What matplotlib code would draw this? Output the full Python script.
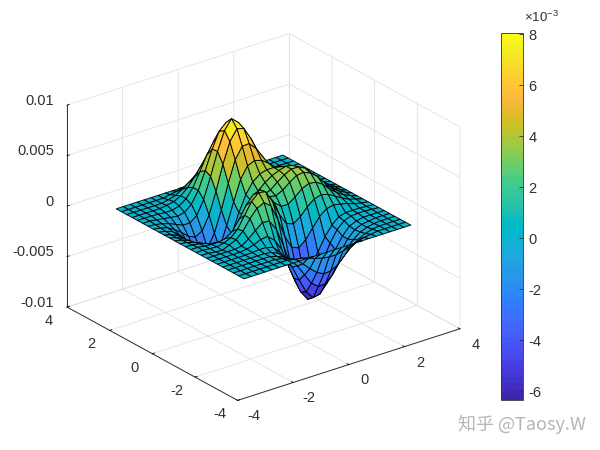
import numpy as np
import matplotlib
matplotlib.use("Agg")
import matplotlib.pyplot as plt
from matplotlib.colors import ListedColormap, Normalize
from matplotlib.cm import ScalarMappable
from mpl_toolkits.mplot3d import proj3d

grid_x = [-3, -2.75, -2.5, -2.25, -2, -1.75, -1.5, -1.25, -1, -.75, -.5, -.25, 0, .25, .5, .75, 1, 1.25, 1.5, 1.75, 2, 2.25, 2.5, 2.75, 3]
grid_y = list(grid_x)

# Surface height, in units of 1e-3, one list per y row
y_m300 = [0] * 25
y_m275 = [0, 0, 0, 0, 0, 0, 0, 0, -.15, -.25, -.45, -.7, -.9, -1, -1, -.85, -.6, -.4, -.2, -.1, 0, 0, 0, 0, 0]
y_m250 = [0, 0, 0, 0, 0, 0, 0, -.15, -.35, -.7, -1.3, -2, -2.6, -2.95, -2.9, -2.5, -1.8, -1.15, -.65, -.3, -.1, 0, 0, 0, 0]
y_m225 = [0, 0, 0, 0, 0, 0, 0, -.2, -.5, -1.05, -1.8, -2.9, -3.95, -4.5, -4.45, -3.8, -2.8, -1.75, -1, -.45, -.2, -.05, 0, 0, 0]
y_m200 = [0, 0, 0, 0, 0, 0, 0, -.1, -.4, -1.1, -2.2, -3.7, -5.1, -5.9, -5.75, -4.9, -3.55, -2.2, -1.2, -.5, -.2, -.1, 0, 0, 0]
y_m175 = [0, 0, 0, 0, 0, .05, .1, .1, -.1, -.8, -2, -3.8, -5.4, -6.35, -6.3, -5.4, -3.9, -2.3, -1.2, -.45, -.15, 0, 0, 0, 0]
y_m150 = [0, 0, 0, 0, 0, .1, .3, .6, .7, .1, -1, -2.9, -4.7, -5.8, -5.9, -4.95, -3.4, -1.95, -.85, -.2, .05, .1, .1, .05, 0]
y_m125 = [0, 0, 0, 0, 0, .1, .6, 1.2, 1.8, 1.7, .7, -1.1, -3.1, -4.5, -4.9, -4.1, -2.9, -1.6, -.7, -.1, .1, .1, .1, .05, 0]
y_m100 = [0, 0, -.1, -.15, .15, .45, 1.1, 2.1, 2.9, 3.25, 2.7, 1.15, -.75, -2.05, -2.35, -1.75, -.8, .1, .65, .8, .65, .5, .25, .1, 0]
y_m075 = [0, 0, -.05, -.1, .05, .35, 1, 2.15, 3.3, 3.95, 3.8, 2.6, 1.1, 0, -.25, .25, 1, 1.55, 1.75, 1.55, 1.15, .75, .4, .2, 0]
y_m050 = [0, 0, -.1, -.15, -.15, 0, .5, 1.5, 2.65, 3.45, 3.7, 3, 2, 1.4, 1.4, 1.9, 2.5, 2.8, 2.7, 2.25, 1.55, 1, .55, .25, 0]
y_m025 = [0, -.05, -.15, -.35, -.55, -.7, -.5, .1, 1.1, 2.05, 2.65, 2.65, 2.3, 2.15, 2.5, 3.05, 3.5, 3.6, 3.3, 2.75, 1.9, 1.15, .65, .3, 0]
y_p000 = [0, -.1, -.3, -.6, -1.1, -1.6, -1.9, -1.6, -.75, .3, 1.3, 1.85, 2.15, 2.45, 3, 3.5, 3.85, 3.85, 3.5, 2.75, 1.9, 1.2, .65, .3, 0]
y_p025 = [0, -.15, -.4, -.9, -1.7, -2.6, -3.15, -3.15, -2.35, -1.1, .4, 1.55, 2.3, 2.9, 3.35, 3.65, 3.85, 3.7, 3.15, 2.5, 1.7, 1.05, .55, .3, 0]
y_p050 = [0, -.2, -.5, -1.1, -2.05, -2.8, -3.45, -3.9, -3.2, -1.6, .3, 1.85, 2.9, 3.45, 3.65, 3.65, 3.5, 3.15, 2.65, 2, 1.35, .85, .45, .2, 0]
y_p075 = [0, -.2, -.5, -1.1, -2.1, -2.8, -3.45, -3.9, -3.05, -1.05, 1.1, 3.1, 4.2, 4.5, 4.3, 3.8, 3.2, 2.6, 2, 1.5, .95, .6, .3, .15, 0]
y_p100 = [0, -.15, -.4, -.95, -1.75, -2.6, -3.2, -3.1, -1.85, .25, 2.65, 4.75, 5.85, 5.9, 5.2, 4.1, 3, 2.15, 1.45, 1, .6, .35, .2, .1, 0]
y_p125 = [0, -.1, -.3, -.7, -1.2, -1.8, -2.1, -1.7, -.35, 1.8, 4.25, 6.25, 7.3, 7.1, 5.9, 4.4, 2.95, 1.9, 1.1, .65, .4, .2, .1, 0, 0]
y_p150 = [0, -.05, -.2, -.4, -.7, -1, -1, -.45, .9, 2.95, 5.2, 7.05, 8, 7.4, 6.15, 4.4, 2.75, 1.55, .85, .45, .2, .1, 0, 0, 0]
y_p175 = [0, 0, -.1, -.2, -.3, -.4, -.25, .35, 1.5, 3.25, 5.15, 6.7, 7.35, 6.9, 5.55, 3.85, 2.3, 1.2, .55, .2, .1, 0, 0, 0, 0]
y_p200 = [0, 0, 0, -.05, -.1, -.1, .1, .6, 1.5, 2.85, 4.3, 5.45, 5.95, 5.55, 4.45, 3.1, 1.85, .95, .4, .15, .05, 0, 0, 0, 0]
y_p225 = [0, 0, 0, 0, 0, .1, .25, .6, 1.2, 2.05, 3, 3.8, 4.1, 3.85, 3.05, 2.1, 1.25, .65, .3, .1, 0, 0, 0, 0, 0]
y_p250 = [0, 0, 0, 0, 0, 0, .15, .35, .75, 1.25, 1.8, 2.3, 2.45, 2.3, 1.8, 1.25, .75, .35, .15, 0, 0, 0, 0, 0, 0]
y_p275 = [0, 0, 0, 0, 0, 0, 0, .15, .25, .45, .65, .8, .9, .8, .65, .45, .25, .15, 0, 0, 0, 0, 0, 0, 0]
y_p300 = [0] * 25

axis_ticks = [-4, -2, 0, 2, 4]
axis_tick_labels = ["-4", "-2", "0", "2", "4"]
z_ticks = [-0.01, -0.005, 0, 0.005, 0.01]
z_tick_labels = ["-0.01", "-0.005", "0", "0.005", "0.01"]
cbar_ticks = [-6, -4, -2, 0, 2, 4, 6, 8]

parula = ListedColormap([
    (0.2422,0.1504,0.6603),(0.2504,0.1650,0.7076),(0.2578,0.1818,0.7511),(0.2647,0.1978,0.7952),
    (0.2706,0.2147,0.8364),(0.2751,0.2342,0.8710),(0.2783,0.2559,0.8991),(0.2803,0.2782,0.9221),
    (0.2813,0.3006,0.9414),(0.2810,0.3228,0.9579),(0.2795,0.3447,0.9717),(0.2760,0.3667,0.9829),
    (0.2699,0.3892,0.9906),(0.2602,0.4123,0.9952),(0.2440,0.4358,0.9988),(0.2206,0.4603,0.9973),
    (0.1963,0.4847,0.9892),(0.1834,0.5074,0.9798),(0.1786,0.5289,0.9682),(0.1764,0.5499,0.9520),
    (0.1687,0.5703,0.9359),(0.1540,0.5902,0.9218),(0.1460,0.6091,0.9079),(0.1380,0.6276,0.8973),
    (0.1248,0.6459,0.8883),(0.1113,0.6635,0.8763),(0.0952,0.6798,0.8598),(0.0689,0.6948,0.8394),
    (0.0297,0.7082,0.8163),(0.0036,0.7203,0.7917),(0.0067,0.7312,0.7660),(0.0433,0.7411,0.7394),
    (0.0964,0.7500,0.7120),(0.1408,0.7584,0.6842),(0.1717,0.7670,0.6554),(0.1938,0.7758,0.6251),
    (0.2161,0.7843,0.5923),(0.2470,0.7918,0.5567),(0.2906,0.7973,0.5188),(0.3406,0.8008,0.4789),
    (0.3909,0.8029,0.4354),(0.4456,0.8024,0.3909),(0.5044,0.7993,0.3480),(0.5616,0.7942,0.3045),
    (0.6174,0.7876,0.2612),(0.6720,0.7793,0.2227),(0.7242,0.7698,0.1910),(0.7738,0.7598,0.1646),
    (0.8203,0.7498,0.1535),(0.8634,0.7406,0.1596),(0.9035,0.7330,0.1774),(0.9393,0.7288,0.2100),
    (0.9728,0.7298,0.2394),(0.9956,0.7434,0.2371),(0.9970,0.7659,0.2199),(0.9952,0.7861,0.1967),
    (0.9892,0.8136,0.1885),(0.9794,0.8390,0.1778),(0.9676,0.8639,0.1643),(0.9610,0.8890,0.1537),
    (0.9597,0.9135,0.1423),(0.9628,0.9373,0.1265),(0.9691,0.9606,0.1064),(0.9769,0.9839,0.0805)])

rows = [y_m300, y_m275, y_m250, y_m225, y_m200, y_m175, y_m150, y_m125, y_m100,
        y_m075, y_m050, y_m025, y_p000, y_p025, y_p050, y_p075, y_p100, y_p125,
        y_p150, y_p175, y_p200, y_p225, y_p250, y_p275, y_p300]
Z = np.array(rows) * 1e-3
X, Y = np.meshgrid(grid_x, grid_y)

plt.rcParams['font.family'] = ['Liberation Sans', 'DejaVu Sans']
plt.rcParams['axes.unicode_minus'] = False
plt.rcParams['mathtext.default'] = 'regular'
fig = plt.figure(figsize=(6, 4.5), dpi=100, facecolor='white')
W, H = 600.0, 450.0
ax = fig.add_axes([22.3 / W, 30.5 / H, 469.7 / W, 394.4 / H], projection='3d', proj_type='ortho')
rect = ax.get_position(original=True)
ax.apply_aspect = lambda position=None: ax._set_position(rect, which='active')
ax.set_facecolor('none')
ax.patch.set_alpha(0)
ax.view_init(elev=30, azim=-127.5)
ax.set_box_aspect((1, 1, 0.991))
norm = Normalize(vmin=-6.35e-3, vmax=8.04e-3)
ax.plot_surface(X, Y, Z, rstride=1, cstride=1, cmap=parula, norm=norm, shade=False,
                edgecolor=(0, 0, 0, 0.9), linewidth=0.7, antialiased=True)
ax.set_xlim(-4, 4)
ax.set_ylim(-4, 4)
ax.set_zlim(-0.01, 0.01)
ax.set_xticks(axis_ticks)
ax.set_yticks(axis_ticks)
ax.set_zticks(z_ticks)
ax.set_xticklabels([])
ax.set_yticklabels([])
ax.set_zticklabels([])
tick_color = '#303030'
M = ax.get_proj()


def label3d(x, y, z, s, ha):
    px, py, _ = proj3d.proj_transform(x, y, z, M)
    ax.text2D(px, py, s, transform=ax.transData, fontsize=10.5, color=tick_color,
              ha=ha, va='center', clip_on=False)


for v, s in zip(axis_ticks, axis_tick_labels):
    label3d(v, -4.75, -0.0107, s, 'center')
    label3d(-4.65, v, -0.0108, s, 'center')
for v, s in zip(z_ticks, z_tick_labels):
    label3d(-4.47, 4, v + 0.00084, s, 'right')
for axis in (ax.xaxis, ax.yaxis, ax.zaxis):
    axis.set_pane_color((1, 1, 1, 0))
    axis.pane.set_edgecolor('#e0e0e0')
    axis.line.set_color('#303030')
    axis.line.set_linewidth(0.7)
    axis._axinfo['grid'].update(color='#e2e2e2', linewidth=0.6)
    axis._axinfo['tick'].update(inward_factor=0.0, outward_factor=0.12, color='#303030', linewidth={True: 0.6, False: 0.6})

cax = fig.add_axes([501 / W, (H - 400) / H, 22 / W, 367 / H])
sm = ScalarMappable(norm=Normalize(vmin=-6.35, vmax=8.04), cmap=parula)
cb = fig.colorbar(sm, cax=cax)
cb.set_ticks(cbar_ticks)
cb.ax.tick_params(labelsize=10.5, colors='#303030', direction='in', length=3, width=0.6, pad=4)
cb.outline.set_linewidth(0.6)
cb.outline.set_edgecolor('#303030')
fig.text(524 / W, 1 - 17 / H, "×10$^{-3}$", fontsize=9.5, color='#303030', ha='left', va='center')
fig.text(458 / W, 1 - 424 / H, "知乎 @Taosy.W", fontsize=13, color='#b5b5b5', ha='left', va='center',
         family=['Noto Sans CJK SC', 'DejaVu Sans'])
fig.savefig("out.png", dpi=100)
